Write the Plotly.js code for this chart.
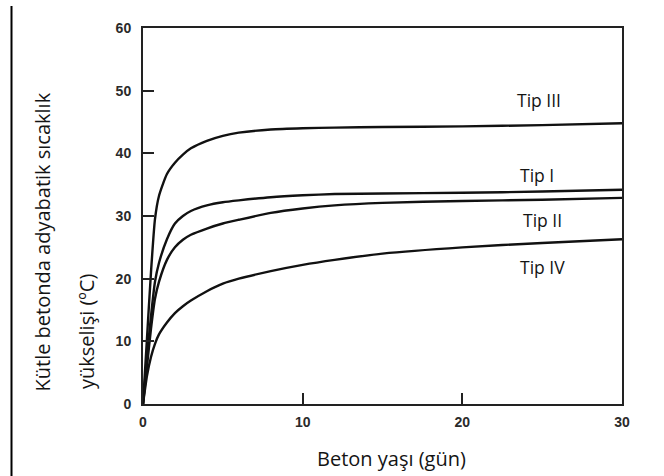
<!DOCTYPE html>
<html>
<head>
<meta charset="utf-8">
<script src="https://cdn.plot.ly/plotly-3.0.1.min.js"></script>
<style>html,body{margin:0;padding:0;background:#fff;}#chart{width:664px;height:476px;}</style>
</head>
<body>
<div id="chart"></div>
<script>
// Data
var days = [0, 0.25, 0.5, 0.75, 1, 1.5, 2, 2.5, 3, 4, 5, 6, 8, 10, 12, 15, 20, 25, 30];
var tipIII = [0, 10.5, 21, 29.5, 33.2, 36.7, 38.5, 39.8, 40.8, 42, 42.8, 43.3, 43.8, 44, 44.1, 44.2, 44.3, 44.5, 44.8];
var tipI   = [0, 7.5, 14, 19.5, 22.5, 26.3, 28.8, 30, 30.8, 31.7, 32.2, 32.5, 33, 33.3, 33.5, 33.6, 33.7, 33.9, 34.2];
var tipII  = [0, 6, 12, 16.8, 19.5, 23, 25, 26.2, 27, 28, 28.8, 29.4, 30.5, 31.2, 31.7, 32.1, 32.4, 32.6, 32.9];
var tipIV  = [0, 4.5, 7.5, 9.6, 11.1, 13, 14.5, 15.6, 16.5, 18, 19.2, 20, 21.2, 22.2, 23, 24, 25, 25.7, 26.3];

var seriesNames = ["Tip III", "Tip I", "Tip II", "Tip IV"];
var seriesData = [tipIII, tipI, tipII, tipIV];
var labelX = [24.8, 24.7, 25.0, 25.0];
var labelY = [48.5, 36.5, 29.3, 21.9];

var xTicks = [0, 10, 20, 30];
var yTicks = [0, 10, 20, 30, 40, 50, 60];

var xTitle = "Beton yaşı (gün)";
var yTitle1 = "Kütle betonda adyabatik sıcaklık";
var yTitle2 = "yükselişi (ºC)";

var traces = seriesData.map(function (ys, i) {
  return {
    x: days, y: ys, type: 'scatter', mode: 'lines', name: seriesNames[i],
    line: {color: '#111', width: 2.4, shape: 'spline', smoothing: 0.6},
    hoverinfo: 'skip'
  };
});

var L = 143, R = 42, T = 28, B = 72, W = 664, H = 476;
var pw = W - L - R, ph = H - T - B;
function px2x(p) { return (p - L) / pw; }
function px2y(p) { return (H - B - p) / ph; }

var textFont = {family: '"Open Sans", "Noto Sans", sans-serif', size: 20, color: '#141414'};
var annotations = seriesNames.map(function (n, i) {
  return {x: labelX[i], y: labelY[i], xref: 'x', yref: 'y', text: n, showarrow: false,
          xanchor: 'center', yanchor: 'middle',
          font: {family: textFont.family, size: 17.5, color: textFont.color}};
});
annotations.push({x: px2x(391), y: px2y(459), xref: 'paper', yref: 'paper', text: xTitle,
  showarrow: false, xanchor: 'center', yanchor: 'middle', font: textFont});
annotations.push({x: px2x(42), y: px2y(242.5), xref: 'paper', yref: 'paper', text: yTitle1,
  showarrow: false, textangle: -90, xanchor: 'center', yanchor: 'middle', font: textFont});
annotations.push({x: px2x(86), y: px2y(332), xref: 'paper', yref: 'paper', text: yTitle2,
  showarrow: false, textangle: -90, xanchor: 'center', yanchor: 'middle', font: textFont});

var tickFont = {family: 'Arial, "Liberation Sans", sans-serif', size: 14, color: '#2a2a2a', weight: 'bold'};

var layout = {
  width: W, height: H,
  margin: {l: L, r: R, t: T, b: B, pad: 0},
  paper_bgcolor: '#fff', plot_bgcolor: '#fff',
  showlegend: false,
  xaxis: {
    range: [0, 30], tickvals: xTicks, ticktext: xTicks.map(String),
    ticks: 'inside', ticklen: 11, tickwidth: 2, tickcolor: '#222',
    showline: true, linecolor: '#222', linewidth: 2, mirror: true,
    showgrid: false, zeroline: false, tickfont: tickFont, ticklabelstandoff: 4,
    fixedrange: true
  },
  yaxis: {
    range: [0, 60], tickvals: yTicks, ticktext: yTicks.map(String),
    ticks: 'inside', ticklen: 11, tickwidth: 2, tickcolor: '#222',
    showline: true, linecolor: '#222', linewidth: 2, mirror: true,
    showgrid: false, zeroline: false, tickfont: tickFont, ticklabelstandoff: 7,
    fixedrange: true
  },
  annotations: annotations,
  shapes: [{type: 'line', xref: 'paper', yref: 'paper',
            x0: px2x(11.5), x1: px2x(11.5), y0: px2y(6), y1: px2y(476),
            line: {color: '#000', width: 2}}]
};

Plotly.newPlot('chart', traces, layout, {displayModeBar: false, staticPlot: true});
</script>
</body>
</html>
